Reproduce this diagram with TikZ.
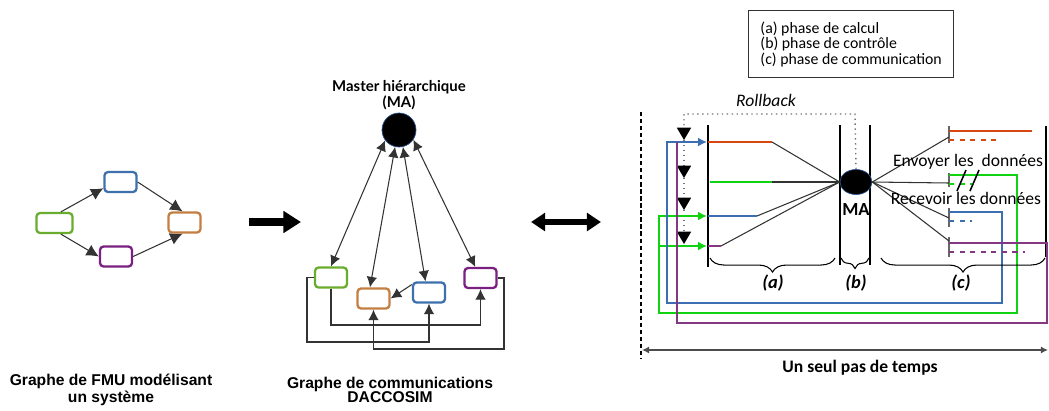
\documentclass[tikz,border=0pt]{standalone}
\usepackage{fontspec}
\setmainfont{Carlito}
\newfontfamily\arialfont{Liberation Sans}
\newfontfamily\latofont{Lato}
\usetikzlibrary{arrows.meta,decorations.pathreplacing,shapes.geometric,positioning}

\begin{document}
\begin{tikzpicture}[x=0.02cm, y=-0.02cm, >={Latex[length=6pt,width=6pt]}, font=\fontsize{10}{12}\selectfont,
	fmu/.style={draw=#1, line width=1.3pt, rounded corners=2pt, fill=white, minimum width=0.64cm, minimum height=0.4cm, inner sep=0pt},
	liaison/.style={draw=black!80, line width=0.6pt},
	barre/.style={line width=1.4pt, black},
	trait/.style={line width=1.2pt},
	repere/.style={line width=0.8pt, gray!80!black},
	accolade/.style={decorate, decoration={brace, mirror, amplitude=#1}, line width=0.6pt},
	rb/.style={dotted, line width=0.8pt, gray!90!black},
	rbfleche/.style={-{Triangle[length=7pt,width=8pt,color=black]}},
	titre/.style={font=\arialfont\bfseries\fontsize{8.9}{8.2}\selectfont, align=center}]
	\definecolor{fmugreen}{RGB}{106,172,46}
	\definecolor{fmublue}{RGB}{62,112,172}
	\definecolor{fmuorange}{RGB}{196,126,66}
	\definecolor{fmupurple}{RGB}{122,32,128}
	\definecolor{rouge}{RGB}{214,72,18}
	\definecolor{vert}{RGB}{16,210,16}
	\definecolor{bleu}{RGB}{62,110,178}
	\definecolor{violet}{RGB}{132,56,132}
	\definecolor{bordma}{RGB}{40,80,140}
	
	\useasboundingbox (0,0) rectangle (1049,410);
	
	% graphe de FMU
	\node[fmu=fmugreen, minimum width=0.72cm] (g1) at (54.5,223) {};
	\node[fmu=fmublue] (b1) at (120.5,182) {};
	\node[fmu=fmuorange] (o1) at (184.5,222.5) {};
	\node[fmu=fmupurple] (p1) at (116,256.5) {};
	\draw[liaison, -{Latex[length=7pt,width=7pt]}] (g1.60) -- (b1.200);
	\draw[liaison, -{Latex[length=7pt,width=7pt]}] (g1.-60) -- (p1.west);
	\draw[liaison, -{Latex[length=7pt,width=7pt]}] (b1.east) -- (o1.100);
	\draw[liaison, -{Latex[length=7pt,width=7pt]}] (p1.east) -- (o1.-100);
	\node[titre] (t1) at (111,390) {Graphe de FMU modélisant\\un système};
	
	% grosses fleches
	\coordinate (f1) at (249,222);
	\coordinate (f2) at (301,222);
	\draw[line width=4pt, -{Triangle[length=10pt,width=12pt]}] (f1) -- (f2);
	\coordinate (f3) at (531,222);
	\coordinate (f4) at (601,222);
	\draw[line width=3pt, {Triangle[length=8pt,width=10pt]}-{Triangle[length=8pt,width=10pt]}] (f3) -- (f4);
	
	% graphe de communications
	\node[circle, fill=black, draw=bordma, minimum size=0.68cm, inner sep=0pt] (ma) at (399,130) {};
	\node[font=\latofont\bfseries\fontsize{8.5}{9.1}\selectfont, align=center] (titrema) at (399,95) {Master hiérarchique\\(MA)};
	\node[fmu=fmugreen] (g2) at (331,277.5) {};
	\node[fmu=fmuorange] (o2) at (373.5,298.5) {};
	\node[fmu=fmublue] (b2) at (429,292.5) {};
	\node[fmu=fmupurple] (p2) at (480.5,278) {};
	\draw[liaison, <->] (ma.217) -- (g2.north);
	\draw[liaison, <->] (ma.257) -- ([xshift=-2pt]o2.north);
	\draw[liaison, <->] (ma.283) -- ([xshift=-2pt]b2.north);
	\draw[liaison, <->] (ma.326) -- ([xshift=-3pt]p2.north);
	\draw[liaison, ->] (b2.155) -- (o2.east);
	\draw[liaison, ->] (g2.west) -- (307,277.5) -- (307,342) -| (b2.south);
	\draw[liaison, ->] (g2.south) -- (331,325) -| (p2.south);
	\draw[liaison, ->] (p2.east) -- (504,278) -- (504,349) -| (o2.south);
	\node[titre] (t2) at (390,390) {Graphe de communications\\DACCOSIM};
	
	% legende
	\node[draw=black!80, line width=0.7pt, minimum width=4.1cm, minimum height=1.34cm, align=left, anchor=north west,
		font=\fontsize{9}{8.8}\selectfont] (legende) at (748,10) {(a) phase de calcul\\(b) phase de contrôle\\(c) phase de communication};
	
	% pas de temps
	\draw[line width=1.6pt, dash pattern=on 2.4pt off 1.6pt] (641,112) -- (641,358);
	\coordinate (debut) at (642,350);
	\coordinate (fin) at (1048,350);
	\draw[gray!60!black, line width=0.8pt, {Latex[length=4pt,width=4pt]}-{Latex[length=4pt,width=4pt]}] (debut) -- (fin);
	\node[font=\bfseries\fontsize{10}{12}\selectfont] (pas) at (860,368) {Un seul pas de temps};
	
	% barres des phases
	\draw[barre] (708,125) -- (708,267);
	\draw[barre] (840,125) -- (840,265);
	\draw[barre] (870,125) -- (870,265);
	\draw[barre] (1046,126) -- (1046,257);
	\node[ellipse, fill=black, draw=bordma, minimum width=0.64cm, minimum height=0.5cm, inner sep=0pt] (ma2) at (856,182) {};
	\node[font=\bfseries\fontsize{10.5}{12}\selectfont] (lma) at (856,210) {MA};
	
	% rollback
	\node[font=\itshape\fontsize{10}{12}\selectfont] (rollback) at (766,100) {Rollback};
	\draw[rb, rbfleche] (ma2.north) -- (855,114) -- (684,114) -- (684,140);
	\draw[rb, rbfleche] (684,140) -- (684,178);
	\draw[rb, rbfleche] (684,178) -- (684,210);
	\draw[rb, rbfleche] (684,210) -- (684,244);
	
	% phase de calcul
	\draw[trait, rouge] (708,142) -- (772,142) coordinate (ca);
	\draw[trait, vert] (710,182) -- (772,182) coordinate (cb);
	\draw[trait, bleu] (708,216) -- (757,216) coordinate (cc);
	\draw[trait, violet] (708,246) -- (721,246) coordinate (cd);
	\foreach \c in {ca,cb,cc,cd}
		\draw[liaison] (\c) -- (ma2.west);
	
	% phase de communication
	\foreach \y/\h/\n in {126/143/137, 173/187/183, 208/227/218, 237/257/241}{
		\draw[repere] (949,\y) -- (949,\h);
		\draw[liaison] (ma2.east) -- (949,\n);
	}
	\draw[trait, rouge] (949,131) -- (1032,131);
	\draw[trait, rouge, dashed] (949,140) -- (997,140);
	\draw[trait, vert, -{Latex[length=5pt,width=5pt]}] (949,175) -- (1017,175) -- (1017,313) -- (659,313) -- (659,216) -- (707,216);
	\draw[trait, vert, -{Latex[length=5pt,width=5pt]}] (659,246) -- (707,246);
	\draw[trait, vert, dashed] (949,184) -- (972,184);
	\draw[trait, bleu, -{Latex[length=5pt,width=5pt]}] (949,212) -- (1002,212) -- (1002,303) -- (667,303) -- (667,142) -- (707,142);
	\draw[trait, bleu, dashed] (949,221) -- (972,221);
	\draw[trait, violet] (949,243) -- (1047,243) -- (1047,323) -- (677,323) -- (677,142);
	\draw[trait, violet, dashed] (949,252) -- (1025,252);
	\draw[line width=0.9pt] (957,191) -- (966,170);
	\draw[line width=0.9pt] (970,191) -- (979,170);
	\node (envoi) at (968,162) {Envoyer les\ \ données};
	\node (recep) at (966,198) {Recevoir les données};
	
	% accolades
	\draw[accolade=8pt] (710,258) -- (835,258);
	\draw[accolade=6pt] (841,258) -- (869,258);
	\draw[accolade=8pt] (881,258) -- (1045,258);
	\node[font=\bfseries\itshape\fontsize{10.5}{12}\selectfont] (la) at (773,283) {(a)};
	\node[font=\bfseries\itshape\fontsize{10.5}{12}\selectfont] (lb) at (856,283) {(b)};
	\node[font=\bfseries\itshape\fontsize{10.5}{12}\selectfont] (lc) at (961,283) {(c)};
\end{tikzpicture}
\end{document}
